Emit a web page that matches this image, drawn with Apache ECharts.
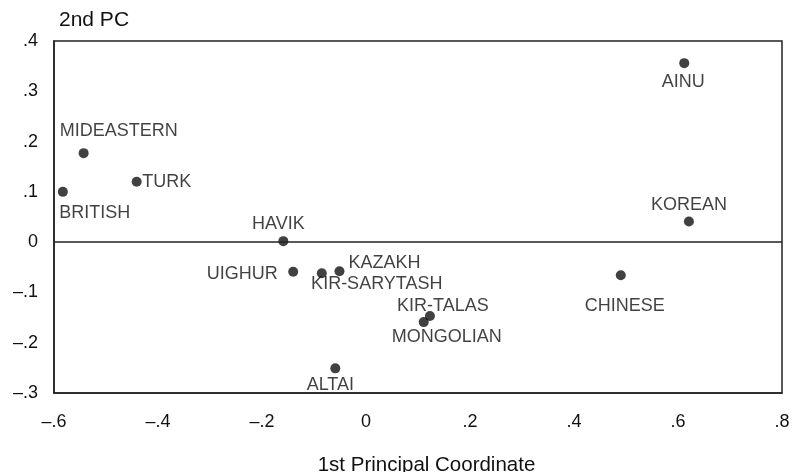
<!DOCTYPE html>
<html>
<head>
<meta charset="utf-8">
<script src="https://cdn.jsdelivr.net/npm/echarts@6/dist/echarts.min.js"></script>
<style>
html,body{margin:0;padding:0;background:#fff;}
#chart{width:795px;height:472px;}
</style>
</head>
<body>
<div id="chart"></div>
<script>
// Data
const populations = ['MIDEASTERN','BRITISH','TURK','HAVIK','UIGHUR','KIR-SARYTASH','KAZAKH','KIR-TALAS','MONGOLIAN','ALTAI','AINU','KOREAN','CHINESE'];
const pc1 = [-0.543,-0.583,-0.441,-0.159,-0.140,-0.085,-0.051,0.123,0.111,-0.059,0.612,0.621,0.490];
const pc2 = [0.177,0.100,0.120,0.002,-0.059,-0.062,-0.058,-0.147,-0.159,-0.251,0.356,0.041,-0.066];
const xTicks = [-0.6,-0.4,-0.2,0,0.2,0.4,0.6,0.8];
const yTicks = [-0.3,-0.2,-0.1,0,0.1,0.2,0.3,0.4];

// Label placement (style only): offset of label centre from the point
const labelOffset = {
  'MIDEASTERN':[35,-22], 'BRITISH':[32,21], 'TURK':[30,0], 'HAVIK':[-5,-17],
  'UIGHUR':[-51,2], 'KIR-SARYTASH':[55,11], 'KAZAKH':[45,-8], 'KIR-TALAS':[13,-10],
  'MONGOLIAN':[23,15], 'ALTAI':[-5,17], 'AINU':[-1,19], 'KOREAN':[0,-16], 'CHINESE':[4,31]
};

const FONT = '"Liberation Sans", Arial, Helvetica, sans-serif';
const fmt = v => {
  if (Math.abs(v) < 1e-9) return '0';
  const s = Math.abs(v).toFixed(1).replace(/^0/, '');
  return v < 0 ? '\u2013' + s : s;
};

const data = populations.map((n, i) => ({ name: n, value: [pc1[i], pc2[i]] }));

const chart = echarts.init(document.getElementById('chart'), null, {renderer:'canvas'});
chart.setOption({
  animation: false,
  backgroundColor: '#fff',
  grid: { left: 54, right: 13, top: 41, bottom: 79, show: true, borderColor: '#222', borderWidth: 1.5, containLabel: false, outerBoundsMode: 'none' },
  xAxis: {
    type: 'value', min: xTicks[0], max: xTicks[xTicks.length-1], interval: 0.2,
    name: '1st Principal Coordinate', nameLocation: 'middle', nameGap: 62,
    nameTextStyle: { fontFamily: FONT, fontSize: 20.5, color: '#111', padding: [0,0,0,17] },
    axisLine: { show: true, onZero: false, lineStyle: { color: '#222', width: 1.5 } },
    axisTick: { show: false }, splitLine: { show: false },
    axisLabel: { formatter: fmt, fontFamily: FONT, fontSize: 18, color: '#111', margin: 20 }
  },
  yAxis: {
    type: 'value', min: yTicks[0], max: yTicks[yTicks.length-1], interval: 0.1,
    name: '2nd PC', nameLocation: 'end', nameGap: 21,
    nameTextStyle: { fontFamily: FONT, fontSize: 21, color: '#111', align: 'left', verticalAlign: 'middle', padding: [0,0,0,5] },
    axisLine: { show: true, onZero: false, lineStyle: { color: '#222', width: 1.5 } },
    axisTick: { show: false }, splitLine: { show: false },
    axisLabel: { formatter: fmt, fontFamily: FONT, fontSize: 18, color: '#111', margin: 16 }
  },
  series: [{
    type: 'scatter',
    symbol: 'circle',
    symbolSize: 10,
    itemStyle: { color: '#111' },
    data: data,
    label: {
      show: true, position: 'inside', formatter: p => p.name,
      fontFamily: FONT, fontSize: 18, color: '#111'
    },
    labelLayout: p => {
      const o = labelOffset[populations[p.dataIndex]];
      return { dx: o[0], dy: o[1], hideOverlap: false };
    },
    markLine: {
      silent: true, symbol: 'none', label: { show: false },
      lineStyle: { color: '#222', width: 1.5, type: 'solid' },
      data: [{ yAxis: 0 }]
    }
  }]
});
</script>
</body>
</html>
